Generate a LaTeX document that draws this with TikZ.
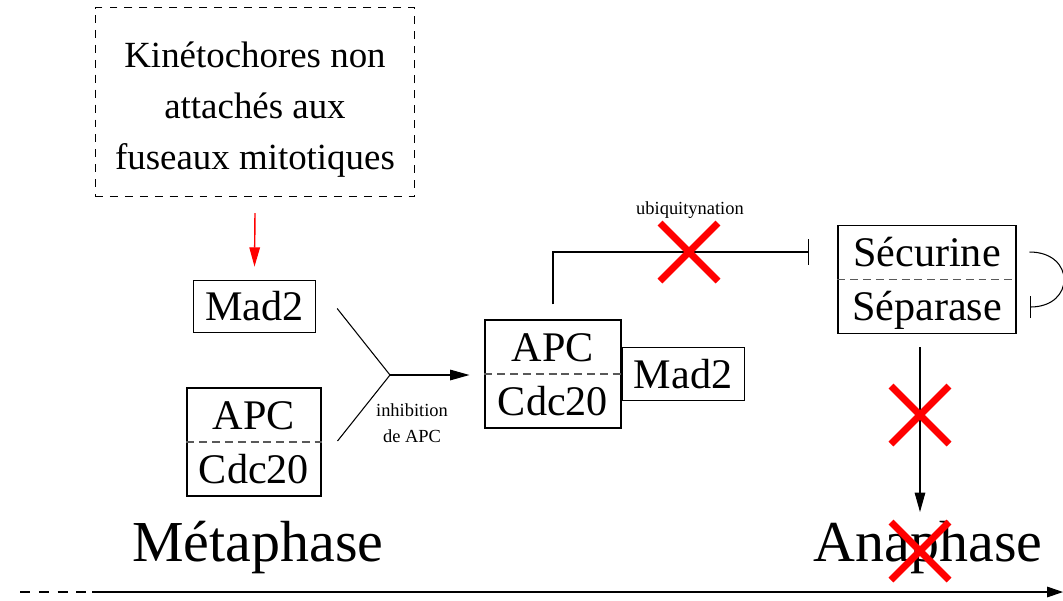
\documentclass[tikz,border=0pt]{standalone}
\usepackage{fontspec}
\setmainfont{Liberation Serif}
\usetikzlibrary{calc,positioning,arrows.meta}
\def\cplxbox(#1,#2,#3,#4,#5,#6){
  \node[draw, minimum width=#4, minimum height=2.16cm, inner sep=0pt] (#1) at (#2,#3) {};
  \draw [dash pattern=on 4.5pt off 2.8pt, gray!70!black] (#1.west) -- (#1.east);
  \node[txt] (#1_up) at ($(#1.center)+(0,-27)$) {#5};
  \node[txt] (#1_dn) at ($(#1.center)+(0,27)$) {#6};
}
\def\redcross(#1){
  \draw [cross] ($(#1)+(-29,-29)$) -- ($(#1)+(29,29)$);
  \draw [cross] ($(#1)+(-29,29)$) -- ($(#1)+(29,-29)$);
}

\begin{document}
\begin{tikzpicture}[x=0.02cm, y=-0.02cm, line width=0.6pt,
  txt/.style={font=\fontsize{24}{28}\selectfont, text height=16pt, text depth=0pt, inner sep=0pt},
  prot/.style={draw, txt, inner xsep=6.8pt, inner ysep=7pt},
  lbl/.style={font=\fontsize{10.5}{15}\selectfont, inner sep=0pt},
  phase/.style={font=\fontsize{33}{36}\selectfont, inner sep=0pt},
  cross/.style={red, line width=4pt},
  tip/.style={-{Triangle[length=11pt, width=6pt]}}]
\useasboundingbox (0,0) rectangle (1063,600);
% signal des kinetochores
\node[draw, dash pattern=on 4.5pt off 4pt, minimum width=6.4cm, minimum height=3.78cm] (kin) at (255,102) {};
\node[align=center, font=\fontsize{21}{29}\selectfont, inner sep=0pt] (kintxt) at (255,110) {Kinétochores non\\attachés aux\\fuseaux mitotiques};
\node[prot] (madA) at (254.5,306.5) {Mad2};
\cplxbox(apcA,254,442,2.68cm,APC,Cdc20)
\draw [red, line width=0.8pt, tip] ($(kin.south)+(0,16)$) -- ($(madA.north)+(0,-13)$);
% inhibition de APC
\coordinate (join) at (390,375);
\cplxbox(apcB,553,374,2.72cm,APC,Cdc20)
\node[prot, anchor=west] (madB) at (apcB.east) {Mad2};
\draw ($(madA.east)+(21,2)$) -- (join) -- ($(apcA.east)+(16,-1)$);
\draw [tip] (join) -- ($(apcB.west)+(-15,1)$);
\node[lbl, align=center] (inh) at (412,423) {inhibition\\de APC};
% securine / separase
\cplxbox(sep,927,279.5,3.56cm,Sécurine,Séparase)
\coordinate (ubq) at ($(sep.west)+(-28,-27.5)$);
\draw [-{Bar[width=0.52cm]}] ($(apcB.north)+(0,-15)$) |- (ubq);
\node[lbl] (ubqtxt) at (690,210) {ubiquitynation};
\coordinate (xa) at (689,252);
\redcross(xa)
\draw [-{Bar[width=0.44cm]}] ($(sep.east)+(13,-27.5)$) .. controls +(46,0) and +(46,0) .. ($(sep.east)+(13,27.5)$);
% vers l'anaphase
\node[phase] (meta) at (258,548) {Métaphase};
\node[phase] (ana) at (928,548) {Anaphase};
\coordinate (anatop) at (920,512);
\draw [tip] ($(sep.south)+(-7,13)$) -- (anatop);
\coordinate (xb) at (920,415);
\redcross(xb)
\coordinate (xc) at (920,551);
\redcross(xc)
% axe du temps
\coordinate (t0) at (20,592);
\coordinate (t1) at (88,592);
\coordinate (t2) at (92,592);
\coordinate (t3) at (1063,592);
\draw [dash pattern=on 5.7pt off 5pt] (t0) -- (t1);
\draw [-{Triangle[length=9pt, width=6pt]}] (t2) -- (t3);
\end{tikzpicture}
\end{document}
